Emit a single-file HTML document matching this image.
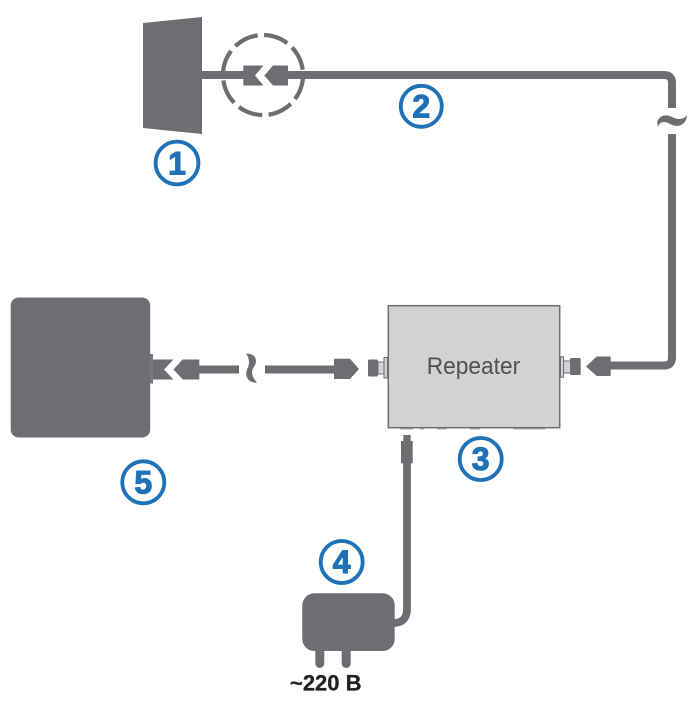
<!DOCTYPE html>
<html>
<head>
<meta charset="utf-8">
<style>
html,body{margin:0;padding:0;background:#fff;width:700px;height:708px;overflow:hidden}
svg{display:block}
.n{font:bold 32px "Liberation Sans",sans-serif;fill:#1f72b8;stroke:#1f72b8;stroke-width:1.1;text-anchor:middle}
.c{fill:none;stroke:#1f72b8;stroke-width:3.8}
</style>
</head>
<body>
<svg width="700" height="708" viewBox="0 0 700 708" xmlns="http://www.w3.org/2000/svg">
<rect width="700" height="708" fill="#fff"/>
<g fill="#6d6e71">
  <!-- antenna 1 -->
  <polygon points="143,23 202,17 202,134 143,128"/>
  <rect x="202" y="71" width="42" height="8"/>
  <polygon points="243.3,65.5 263.5,65.5 255,75.5 263.5,85.5 243.3,85.5"/>
  <polygon points="264.3,75.5 273,65.5 288,65.5 288,85.5 273,85.5"/>
  <!-- top cable -->
  <path d="M288 75H664Q672 75 672 83V108" fill="none" stroke="#6d6e71" stroke-width="8"/>
  <path d="M657 122C660 115 666 114 672 117C678 120 683 120 687 115L686 120C682 127 676 127 670 124C665 121 660 121 658 127Z"/>
  <path d="M672 134V357.5Q672 365.5 664 365.5H610" fill="none" stroke="#6d6e71" stroke-width="8"/>
  <!-- repeater right connector -->
  <polygon points="586,366.5 596.7,356.5 610.7,356.5 610.7,376 596.7,376"/>
  <rect x="570" y="358" width="10.7" height="17" rx="1.5"/>
  <!-- panel 5 -->
  <rect x="10.7" y="297.5" width="139.5" height="140" rx="8"/>
  <rect x="150" y="354" width="3" height="29.5" fill="#77787b"/>
  <polygon points="153,359.5 173.5,359.5 164,369.5 173.5,379.5 153,379.5"/>
  <polygon points="173.5,369.5 182.7,359.5 199.3,359.5 199.3,379.5 182.7,379.5"/>
  <rect x="199" y="365.5" width="40" height="8"/>
  <path d="M246 354C251 353 256 356 256 361C256 366 252 368 252 372C252 377 255 380 257 382.5C252 383 248 381 246.500 376C245 371 249 367 249 363C249 359 248 356 246 354Z"/>
  <rect x="265" y="365.5" width="70" height="8"/>
  <polygon points="334,358.7 350,358.700 359,369 350,379 334,379"/>
  <rect x="368" y="359.500" width="10" height="17" rx="1.5"/>
  <!-- power cord -->
  <rect x="403.300" y="435" width="7.400" height="8"/>
  <rect x="401" y="441" width="11.700" height="22.300"/>
  <path d="M407 462V609Q407 623 393 623" fill="none" stroke="#6d6e71" stroke-width="7.800"/>
  <!-- adapter -->
  <rect x="302.300" y="593.300" width="92.400" height="57.700" rx="12"/>
  <path d="M315.300 648H324.300V663.500A4.500 4.500 0 0 1 315.300 663.500Z"/>
  <path d="M341.700 648H350.700V663.500A4.500 4.500 0 0 1 341.700 663.500Z"/>
</g>
<!-- dashed circle -->
<circle cx="263" cy="75" r="40" fill="none" stroke="#6d6e71" stroke-width="4.200" stroke-dasharray="25 6.416" stroke-dashoffset="-0.700"/>
<!-- repeater -->
<rect x="388.300" y="305.700" width="171.400" height="122" fill="#d1d2d4" stroke="#6d6e71" stroke-width="1.500"/>
<text x="426.700" y="374" font-family="'Liberation Sans',sans-serif" font-size="24" fill="#4f5052" textLength="93.500" lengthAdjust="spacingAndGlyphs">Repeater</text>
<path d="M400 429H413M420 429H424M437 429H447M470 429H480M513 429H545" stroke="#a7a9ac" stroke-width="1" fill="none"/>
<!-- repeater ports -->
<g fill="#d1d2d4" stroke="#6d6e71" stroke-width="1">
  <rect x="378" y="362" width="6.500" height="12"/>
  <rect x="384" y="357.500" width="3.500" height="20.500"/>
  <rect x="563.500" y="361" width="7" height="12"/>
  <rect x="560.500" y="356.700" width="3" height="20.500"/>
</g>
<!-- badges -->
<circle class="c" cx="177" cy="163" r="21.400"/><text class="n" x="177" y="174.500">1</text>
<circle class="c" cx="421.300" cy="106.300" r="20.500"/><text class="n" x="421.300" y="117.500">2</text>
<circle class="c" cx="480.700" cy="459" r="21"/><text class="n" x="480.700" y="470">3</text>
<circle class="c" cx="341.700" cy="562" r="21"/><text class="n" x="341.700" y="573">4</text>
<circle class="c" cx="143.300" cy="482.300" r="21"/><text class="n" x="143.300" y="493.500">5</text>
<text x="290" y="690.500" font-family="'Liberation Sans',sans-serif" font-weight="bold" font-size="22" fill="#231f20" stroke="#231f20" stroke-width=".3" textLength="71.500" lengthAdjust="spacingAndGlyphs">~220 B</text>
</svg>
</body>
</html>
